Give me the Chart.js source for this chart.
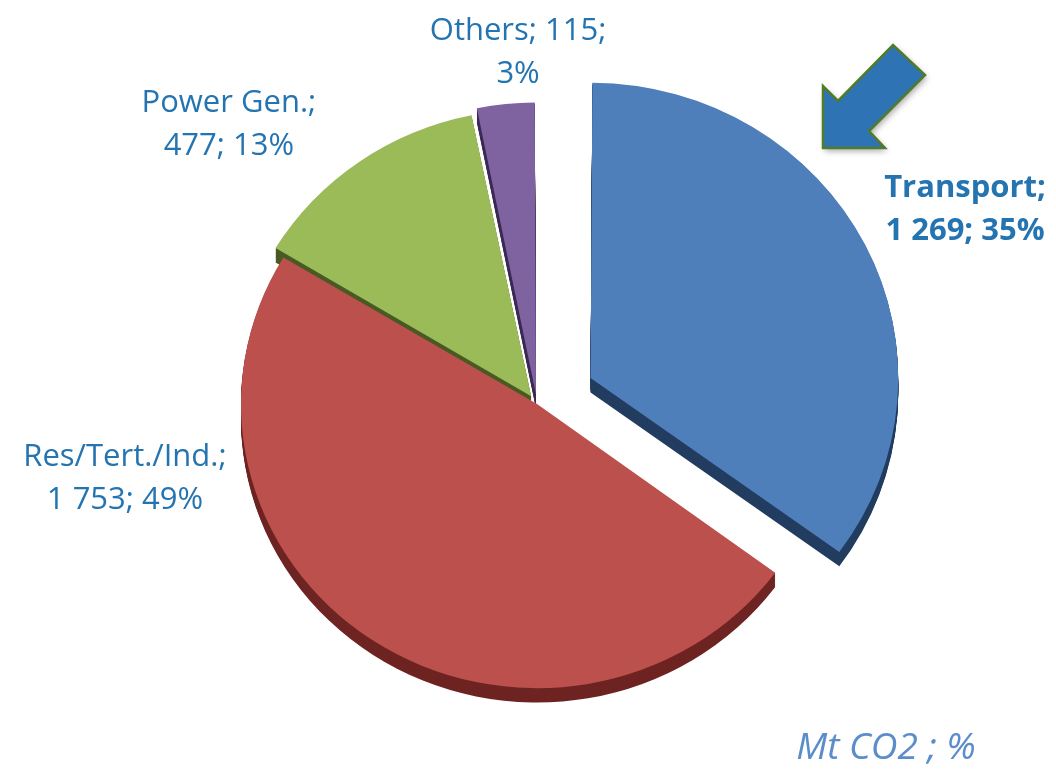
<!DOCTYPE html>
<html>
<head>
<meta charset="utf-8">
<script src="https://cdn.jsdelivr.net/npm/chart.js@4/dist/chart.umd.min.js"></script>
<style>
html, body { margin: 0; padding: 0; background: #fff; }
#wrap { width: 1056px; height: 780px; }
</style>
</head>
<body>
<div id="wrap"><canvas id="pieChart" width="1056" height="780"></canvas></div>
<script>
// data
const sectors = ["Transport", "Res/Tert./Ind.", "Power Gen.", "Others"];
const emissions = [1269, 1753, 477, 115];
const unitLabel = "Mt CO2 ; %";

// look
const topColors = ['#4f7fbb', '#bc504d', '#9bbb59', '#7f63a1'];
const sideColors = ['#223d60', '#6e2422', '#4a5a24', '#3c2b55'];
const explode = [240, 0, 40, 40];
const depth = 14;
const tilt = 0.96;
const labelColor = '#2474b1';

// label blocks, placed relative to pie centre in radii
const labelPlace = [
    {dx: 1.446, dy: -0.659, brk: 1, bold: true},
    {dx: -1.392, dy: 0.25, brk: 1},
    {dx: -1.041, dy: -0.946, brk: 1},
    {dx: -0.064, dy: -1.189, brk: 2}
];

const total = emissions.reduce((a, b) => a + b, 0);
function fmt(v) {
    return String(v).replace(/\B(?=(\d{3})+(?!\d))/g, ' ');
}

/**********
 slight tilt + 3D rim under the slices
 **********/
const sidePlugin = {
    id: 'pieSide',
    beforeDatasetsDraw(chart) {
        const ctx = chart.ctx;
        const arcs = chart.getDatasetMeta(0).data;
        const cy = arcs[0].y;
        ctx.save();
        ctx.translate(0, cy);
        ctx.scale(1, tilt);
        ctx.translate(0, -cy);
        arcs.forEach((arc, i) => {
            const saved = arc.options;
            arc.options = Object.assign({}, saved, {backgroundColor: sideColors[i], borderColor: sideColors[i]});
            for (let d = Math.round(depth / tilt); d > 0; d--) {
                ctx.save();
                ctx.translate(0, d);
                arc.draw(ctx);
                ctx.restore();
            }
            arc.options = saved;
        });
    },
    afterDatasetsDraw(chart) {
        chart.ctx.restore();
    }
};

/**********
 data labels + unit + arrow
 **********/
const labelPlugin = {
    id: 'pieLabels',
    afterDraw(chart) {
        const ctx = chart.ctx;
        const arcs = chart.getDatasetMeta(0).data;
        ctx.save();
        ctx.textAlign = 'center';
        ctx.textBaseline = 'middle';
        ctx.fillStyle = labelColor;
        arcs.forEach((arc, i) => {
            const p = labelPlace[i];
            const parts = [sectors[i] + ';', fmt(emissions[i]) + ';', Math.round(emissions[i] / total * 100) + '%'];
            const lines = [parts.slice(0, p.brk).join(' '), parts.slice(p.brk).join(' ')];
            const cx = arc.x + p.dx * arc.outerRadius;
            const cy = arc.y + p.dy * arc.outerRadius;
            ctx.font = (p.bold ? 'bold ' : '') + '31px "Open Sans"';
            ctx.fillText(lines[0], cx, cy - 21);
            ctx.fillText(lines[1], cx, cy + 22);
        });

        ctx.font = 'italic 37px "Open Sans"';
        ctx.fillStyle = '#5b8dcb';
        ctx.fillText(unitLabel, 886, 748);

        // arrow pointing at Transport
        ctx.beginPath();
        ctx.moveTo(823, 148);
        ctx.lineTo(823, 86);
        ctx.lineTo(838, 101);
        ctx.lineTo(893, 45);
        ctx.lineTo(925, 75);
        ctx.lineTo(869, 131);
        ctx.lineTo(885, 148);
        ctx.closePath();
        ctx.shadowColor = 'rgba(0,0,0,0.35)';
        ctx.shadowBlur = 6;
        ctx.shadowOffsetX = 2;
        ctx.shadowOffsetY = 3;
        ctx.fillStyle = '#2e74b5';
        ctx.fill();
        ctx.shadowColor = 'transparent';
        ctx.lineWidth = 2.5;
        ctx.strokeStyle = '#4f7b2a';
        ctx.stroke();
        ctx.restore();
    }
};

const pieCtx = document.getElementById("pieChart").getContext("2d");
let emissionPie = new Chart(pieCtx, {
    type: "pie",
    data: {
        labels: sectors,
        datasets: [{
            data: emissions,
            backgroundColor: topColors,
            borderWidth: 0,
            offset: explode,
        }],
    },
    options: {
        responsive: false,
        animation: false,
        radius: 296,
        layout: {
            padding: {left: 18, right: 0, top: 28, bottom: 0}
        },
        plugins: {
            legend: {display: false},
            tooltip: {enabled: false},
        },
    },
    plugins: [sidePlugin, labelPlugin],
});
</script>
</body>
</html>
